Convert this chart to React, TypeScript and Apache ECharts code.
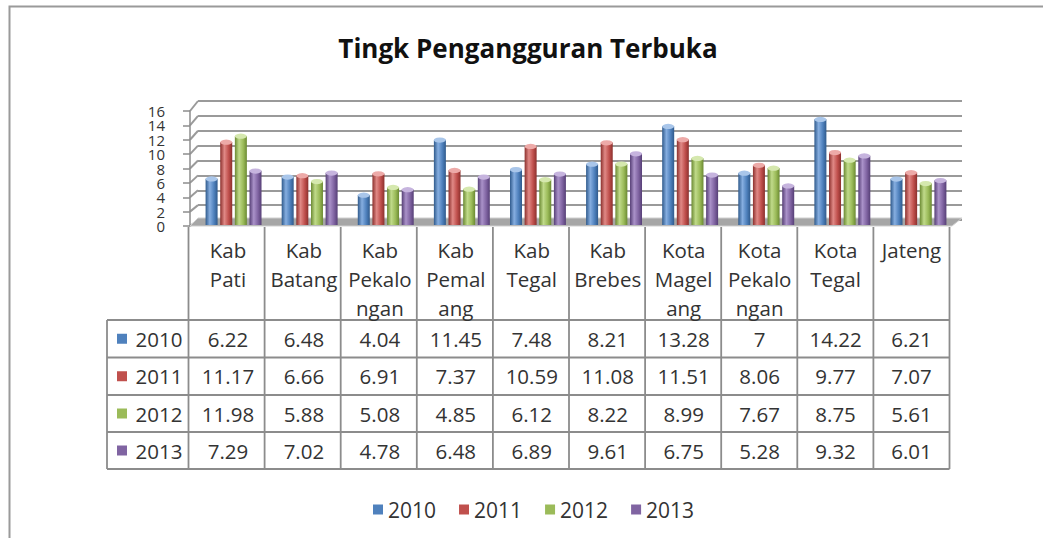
import React, { useEffect, useRef } from "react";
import * as echarts from "echarts";

const titleText = "Tingk Pengangguran Terbuka";
const categories = [
  "Kab\nPati",
  "Kab\nBatang",
  "Kab\nPekalo\nngan",
  "Kab\nPemal\nang",
  "Kab\nTegal",
  "Kab\nBrebes",
  "Kota\nMagel\nang",
  "Kota\nPekalo\nngan",
  "Kota\nTegal",
  "Jateng",
];
const years = ["2010", "2011", "2012", "2013"];
const v2010 = [6.22, 6.48, 4.04, 11.45, 7.48, 8.21, 13.28, 7, 14.22, 6.21];
const v2011 = [11.17, 6.66, 6.91, 7.37, 10.59, 11.08, 11.51, 8.06, 9.77, 7.07];
const v2012 = [11.98, 5.88, 5.08, 4.85, 6.12, 8.22, 8.99, 7.67, 8.75, 5.61];
const v2013 = [7.29, 7.02, 4.78, 6.48, 6.89, 9.61, 6.75, 5.28, 9.32, 6.01];
const seriesValues = [v2010, v2011, v2012, v2013];
const yTickLabels = ["0", "2", "4", "6", "8", "10", "12", "14", "16"];
const yMin = 0;
const yMax = 16;
const yInterval = 2;

const baseColors = ["#4F81BD", "#C0504D", "#9BBB59", "#8064A2"];
const lightColors = ["#86AEE0", "#E08986", "#C0DA8A", "#AA92C9"];
const darkColors = ["#2F5A8C", "#8C302D", "#6B8A32", "#563F76"];
const capColors = ["#A9C6EA", "#EDAAA8", "#D5E8AE", "#C6B4DE"];

const FONT = "'Open Sans', 'Noto Sans', sans-serif";
const TEXT = "#333333";
const LINE = "#8c8c8c";

// layout
const TABLE_LEFT = 188.5;
const COL_W = 76.1;
const KEY_LEFT = 107;
const HEADER_TOP = 227;
const ROW_BOUNDS = [320, 357.5, 395, 432, 469];
const TABLE_FONT = 20.5;

export default function App() {
  const ref = useRef<HTMLDivElement>(null);
  useEffect(() => {
    if (!ref.current) return;
    const chart = echarts.init(ref.current, null, { renderer: "svg" });
    const nCat = categories.length;
    const tableRight = TABLE_LEFT + COL_W * nCat;

    const barSeries: any[] = [];
    const capSeries: any[] = [];
    years.forEach((y, i) => {
      barSeries.push({
        type: "bar",
        name: y,
        xAxisIndex: 2,
        yAxisIndex: 2,
        data: seriesValues[i],
        barWidth: 12,
        barGap: "22%",
        z: 3,
        itemStyle: {
          color: new echarts.graphic.LinearGradient(0, 0, 1, 0, [
            { offset: 0, color: darkColors[i] },
            { offset: 0.35, color: lightColors[i] },
            { offset: 0.7, color: baseColors[i] },
            { offset: 1, color: darkColors[i] },
          ]),
        },
      });
      capSeries.push({
        type: "pictorialBar",
        name: "cap" + y,
        xAxisIndex: 2,
        yAxisIndex: 2,
        data: seriesValues[i],
        barWidth: 12,
        barGap: "22%",
        symbol: "circle",
        symbolSize: [12, 5],
        symbolPosition: "end",
        symbolOffset: [0, "-50%"],
        z: 4,
        itemStyle: { color: capColors[i], borderColor: "#f4f4f4", borderWidth: 0.8 },
        silent: true,
      });
    });

    const option: any = {
      animation: false,
      grid: [
        { left: 198, top: 101, width: 764, height: 119 },
        { left: 190, top: 111, width: tableRight - 190, height: 115 },
        { left: TABLE_LEFT + 7, top: 106, width: COL_W * nCat, height: 119 },
      ],
      xAxis: [
        { gridIndex: 0, type: "category", data: categories, show: false },
        { gridIndex: 1, type: "category", data: categories, show: false },
        { gridIndex: 2, type: "category", data: categories, show: false },
      ],
      yAxis: [
        {
          gridIndex: 0,
          type: "value",
          min: yMin,
          max: yMax,
          interval: yInterval,
          axisLine: { show: false },
          axisTick: { show: false },
          axisLabel: { show: false },
          splitLine: { show: true, lineStyle: { color: "#9a9a9a", width: 2 } },
        },
        {
          gridIndex: 1,
          type: "value",
          min: yMin,
          max: yMax,
          interval: yInterval,
          axisLine: { show: true, lineStyle: { color: LINE, width: 1.5 } },
          axisTick: { show: true, length: 7, lineStyle: { color: LINE, width: 1.5 } },
          axisLabel: { show: false },
          splitLine: { show: false },
        },
        {
          gridIndex: 2,
          type: "value",
          min: yMin,
          max: yMax,
          interval: yInterval,
          show: false,
          splitLine: { show: false },
        },
      ],
      legend: {
        data: years.map((y, i) => ({ name: y, itemStyle: { color: baseColors[i] } })),
        left: 368,
        top: 494,
        icon: "rect",
        itemWidth: 10,
        itemHeight: 10,
        itemGap: 23,
        textStyle: { color: TEXT, fontSize: 21, fontFamily: FONT },
      },
      series: [...barSeries, ...capSeries],
    };
    chart.setOption(option);

    const g: any[] = [];
    g.push({
      type: "rect",
      shape: { x: 9.5, y: 6.5, width: 1200, height: 700 },
      style: { fill: "none", stroke: "#9a9a9a", lineWidth: 2 },
      z: -10,
      silent: true,
    });
    g.push({
      type: "text",
      x: 528,
      y: 48,
      style: {
        text: titleText,
        fontSize: 26,
        fontWeight: "bold",
        fontFamily: FONT,
        fill: "#111",
        align: "center",
        verticalAlign: "middle",
      },
    });
    g.push({
      type: "polygon",
      shape: {
        points: [
          [190, 226],
          [952, 226],
          [962, 218],
          [198, 218],
        ],
      },
      style: { fill: "#a6a6a6", stroke: "#cfcfcf", lineWidth: 1 },
      z: 1,
      silent: true,
    });
    yTickLabels.forEach((lab) => {
      const v = Number(lab);
      const fy = chart.convertToPixel({ yAxisIndex: 1 }, v) as number;
      const by = chart.convertToPixel({ yAxisIndex: 0 }, v) as number;
      g.push({
        type: "line",
        shape: { x1: 190, y1: fy, x2: 198, y2: by },
        style: { stroke: "#9a9a9a", lineWidth: 2 },
        z: 0,
        silent: true,
      });
      g.push({
        type: "text",
        x: 165,
        y: fy,
        style: {
          text: lab,
          fontSize: 15,
          lineHeight: 14,
          fontFamily: FONT,
          fill: TEXT,
          align: "right",
          verticalAlign: "middle",
        },
        z: 6,
      });
    });
    const tl = { stroke: LINE, lineWidth: 1.8 };
    for (let i = 0; i <= nCat; i++) {
      const x = TABLE_LEFT + i * COL_W;
      g.push({
        type: "line",
        shape: { x1: x, y1: HEADER_TOP, x2: x, y2: ROW_BOUNDS[ROW_BOUNDS.length - 1] },
        style: tl,
        z: 5,
        silent: true,
      });
    }
    g.push({
      type: "line",
      shape: { x1: KEY_LEFT, y1: ROW_BOUNDS[0], x2: KEY_LEFT, y2: ROW_BOUNDS[ROW_BOUNDS.length - 1] },
      style: tl,
      z: 5,
      silent: true,
    });
    ROW_BOUNDS.forEach((y) => {
      g.push({
        type: "line",
        shape: { x1: KEY_LEFT, y1: y, x2: tableRight, y2: y },
        style: tl,
        z: 5,
        silent: true,
      });
    });
    categories.forEach((c, ci) => {
      const cx = chart.convertToPixel({ xAxisIndex: 1 }, ci) as number;
      g.push({
        type: "text",
        x: cx,
        y: 235,
        style: {
          text: c,
          fontSize: TABLE_FONT,
          lineHeight: 29,
          fontFamily: FONT,
          fill: TEXT,
          align: "center",
          verticalAlign: "top",
        },
        z: 6,
      });
    });
    years.forEach((y, ri) => {
      const cy = (ROW_BOUNDS[ri] + ROW_BOUNDS[ri + 1]) / 2;
      g.push({
        type: "rect",
        shape: { x: 117, y: cy - 5, width: 10, height: 10 },
        style: { fill: baseColors[ri] },
        z: 6,
      });
      g.push({
        type: "text",
        x: 159,
        y: cy,
        style: {
          text: y,
          fontSize: TABLE_FONT,
          fontFamily: FONT,
          fill: TEXT,
          align: "center",
          verticalAlign: "middle",
        },
        z: 6,
      });
      seriesValues[ri].forEach((val, ci) => {
        const cx = chart.convertToPixel({ xAxisIndex: 1 }, ci) as number;
        g.push({
          type: "text",
          x: cx,
          y: cy,
          style: {
            text: String(val),
            fontSize: TABLE_FONT,
            fontFamily: FONT,
            fill: TEXT,
            align: "center",
            verticalAlign: "middle",
          },
          z: 6,
        });
      });
    });
    chart.setOption({ graphic: g });

    return () => chart.dispose();
  }, []);
  return (
    <div
      ref={ref}
      style={{ position: "fixed", left: 0, top: 0, width: 1043, height: 538, background: "#fff" }}
    />
  );
}
